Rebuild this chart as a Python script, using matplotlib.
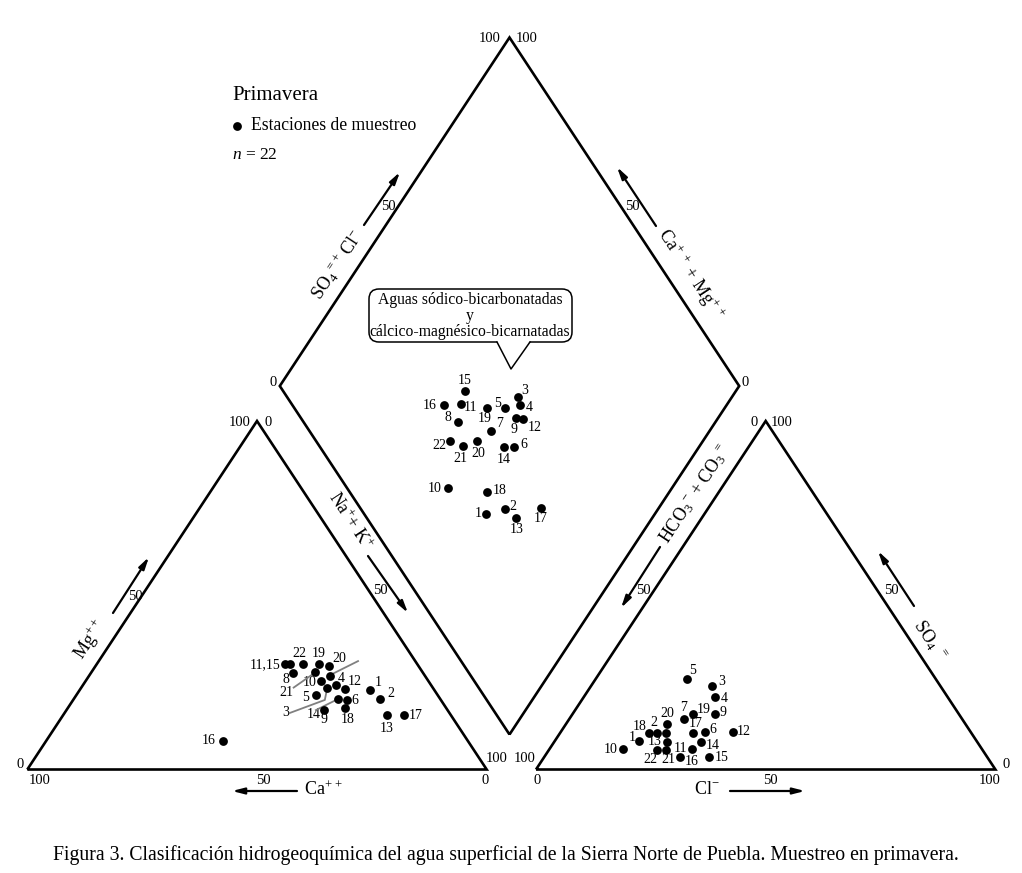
import matplotlib
matplotlib.use('Agg')
import matplotlib.pyplot as plt
from matplotlib.patches import FancyBboxPatch, Polygon

plt.rcParams['font.family'] = ['Liberation Serif', 'DejaVu Serif']
plt.rcParams['mathtext.fontset'] = 'custom'
plt.rcParams['mathtext.rm'] = 'Liberation Serif'
plt.rcParams['mathtext.it'] = 'Liberation Serif:italic'

# ---------------- data (% meq) ----------------
samples = list(range(1, 23))
ca = [14.0, 13.1, 23.1, 20.8, 26.5, 20.4, 20.7, 28.2, 26.9, 23.4, 27.8,
      19.3, 13.9, 22.3, 28.8, 53.2, 10.2, 22.0, 21.5, 19.4, 23.4, 24.8]
mg = [22.8, 20.2, 23.4, 24.2, 21.4, 19.9, 26.8, 27.8, 17.1, 25.4, 30.2,
      23.0, 15.6, 20.2, 30.2, 8.3, 15.6, 17.7, 30.2, 29.8, 28.1, 30.2]
nak = [63.2, 66.7, 53.5, 55.0, 52.1, 59.7, 52.5, 44.0, 56.0, 51.2, 42.0,
       57.7, 70.5, 57.5, 41.0, 38.5, 74.2, 60.3, 48.3, 50.8, 48.5, 45.0]
hco3 = [73.4, 68.5, 49.7, 50.5, 54.1, 57.8, 60.5, 66.4, 53.2, 78.1, 63.2,
        51.7, 67.5, 60.1, 60.5, 67.0, 60.7, 70.2, 58.0, 65.0, 68.8, 70.9]
cl = [18.3, 21.1, 26.3, 28.6, 19.8, 31.4, 25.0, 23.2, 31.0, 16.1, 31.0,
      37.5, 24.5, 31.9, 36.0, 29.5, 28.9, 19.4, 26.2, 22.0, 25.6, 23.5]
so4 = [8.3, 10.4, 24.0, 20.9, 26.1, 10.8, 14.5, 10.4, 15.8, 5.8, 5.8,
       10.8, 8.0, 8.0, 3.5, 3.5, 10.4, 10.4, 15.8, 13.0, 5.6, 5.6]

# ---------------- layout (pixel space) ----------------
W, H = 459.4, 348.5            # triangle base width / height
CAT0 = (27.3, 769.5)           # cation triangle lower-left corner
AN0 = (536.0, 769.5)           # anion triangle lower-left corner
DIAB = (509.5, 734.5)          # diamond bottom vertex


def cat_xy(c, m, n):
    t = c + m + n
    return CAT0[0] + (n / t + 0.5 * m / t) * W, CAT0[1] - m / t * H


def an_xy(h, s, c):
    t = h + s + c
    return AN0[0] + (c / t + 0.5 * s / t) * W, AN0[1] - s / t * H


def dia_xy(n, scl):
    lx, ly = DIAB[0] - W / 2, DIAB[1] - H
    return lx + (n + scl) / 200 * W, ly + (n - scl) / 100 * H


cat_off = {1: (8, -8), 2: (11, -6), 3: (-41, 25), 4: (6, -7), 5: (-10, 3),
           6: (8, 0), 8: (-7, 7), 9: (0, 10), 10: (-11, 2), 11: (-25, 0),
           12: (10, -8), 13: (0, 13), 14: (-24, 15), 16: (-15, 0),
           17: (12, 0), 18: (3, 12), 19: (0, -11), 20: (10, -7),
           21: (-28, 21), 22: (-4, -11)}
cat_text = {11: '11,15'}
cat_leaders = {21: [(-21, 16), (-1, 2)], 3: [(-37, 25), (-2, 12), (0, 2)],
               14: [(-22, 11), (-2, 1)], 7: [(2, -2), (28, -15)]}
an_off = {1: (-7, -3), 2: (-3, -11), 3: (10, -4), 4: (9, 2), 5: (6, -8),
          6: (8, -2), 7: (-1, -11), 9: (8, -2), 10: (-13, 0), 11: (-11, -1),
          12: (11, 0), 13: (-12, 0), 14: (12, 4), 15: (12, 0), 16: (12, 4),
          17: (3, -10), 18: (-9, -7), 19: (11, -5), 20: (0, -11),
          21: (2, 10), 22: (-6, 10)}
dia_off = {1: (-8, 0), 2: (8, -2), 3: (6, -7), 4: (9, 2), 5: (-7, -4),
           6: (10, -2), 7: (8, -8), 8: (-10, -5), 9: (-2, 11), 10: (-13, 0),
           11: (10, 3), 12: (11, 9), 13: (0, 11), 14: (0, 12), 15: (0, -11),
           16: (-14, 0), 17: (0, 11), 18: (13, -2), 19: (-2, 11),
           20: (1, 12), 21: (-2, 12), 22: (-11, 4)}

fig = plt.figure(figsize=(10.22, 8.73), dpi=100)
ax = fig.add_axes([0, 0, 1, 1])
ax.set_xlim(0, 1022)
ax.set_ylim(873, 0)
ax.axis('off')

LW = 1.9
kw = dict(color='k', lw=LW, solid_joinstyle='miter', solid_capstyle='butt')
for x0, y0 in (CAT0, AN0):
    ax.plot([x0, x0 + W, x0 + W / 2, x0], [y0, y0, y0 - H, y0], **kw)
bx, by = DIAB
ax.plot([bx, bx - W / 2, bx, bx + W / 2, bx],
        [by, by - H, by - 2 * H, by - H, by], **kw)

# points
DOT = dict(s=40, color='k', zorder=5, linewidths=0)
cxy = [cat_xy(c, m, n) for c, m, n in zip(ca, mg, nak)]
axy = [an_xy(h, s, c) for h, s, c in zip(hco3, so4, cl)]
dxy = [dia_xy(n, s + c) for n, s, c in zip(nak, so4, cl)]
for pts in (cxy, axy, dxy):
    ax.scatter([p[0] for p in pts], [p[1] for p in pts], **DOT)

LFS = 10
for i, sid in enumerate(samples):
    if sid in cat_off:
        dx, dy = cat_off[sid]
        ax.text(cxy[i][0] + dx, cxy[i][1] + dy, cat_text.get(sid, str(sid)),
                ha='center', va='center', fontsize=LFS)
    if sid in cat_leaders:
        pts = cat_leaders[sid]
        ax.plot([cxy[i][0] + p[0] for p in pts], [cxy[i][1] + p[1] for p in pts],
                color='#808080', lw=1.3, zorder=4)
    if sid in an_off:
        dx, dy = an_off[sid]
        ax.text(axy[i][0] + dx, axy[i][1] + dy, str(sid), ha='center',
                va='center', fontsize=LFS)
    if sid in dia_off:
        dx, dy = dia_off[sid]
        ax.text(dxy[i][0] + dx, dxy[i][1] + dy, str(sid), ha='center',
                va='center', fontsize=LFS)

# tick / corner labels
TFS = 10.5
ticks = [(20, 764, '0'), (40, 781, '100'), (263, 781, '50'), (485, 781, '0'),
         (240, 423, '100'), (268, 423, '0'), (497, 758, '100'),
         (135, 597, '50'), (380, 591, '50'),
         (525, 758, '100'), (537, 781, '0'), (770, 781, '50'),
         (990, 781, '100'), (1006, 764, '0'), (754, 423, '0'),
         (782, 423, '100'), (643, 591, '50'), (891, 591, '50'),
         (490, 38, '100'), (527, 38, '100'), (273, 383, '0'), (745, 382, '0'),
         (388, 207, '50'), (632, 207, '50')]
for x, y, t in ticks:
    ax.text(x, y, t, ha='center', va='center', fontsize=TFS)

# arrows
arrows = [((113, 613), (149, 557)), ((368, 556), (408, 613)),
          ((364, 225), (400, 172)), ((656, 226), (617, 167)),
          ((660, 547), (621, 608)), ((914, 606), (878, 551)),
          ((297, 791), (232, 791)), ((730, 791), (805, 791))]
for tail, head in arrows:
    ax.annotate('', xy=head, xytext=tail,
                arrowprops=dict(arrowstyle='-|>,head_length=0.7,head_width=0.18',
                                lw=1.6, color='k', mutation_scale=10,
                                shrinkA=0, shrinkB=0))

ANG = 56.6
AFS = 13
ax.text(338, 265, r'SO$_4$$^{=}$$^{+}$ Cl$^{-}$', rotation=ANG, ha='center',
        va='center', fontsize=AFS, rotation_mode='anchor')
ax.text(690, 274, r'Ca$^{+\ +}$ + Mg$^{+\,+}$', rotation=-ANG, ha='center',
        va='center', fontsize=AFS, rotation_mode='anchor')
ax.text(350, 521, r'Na$^{+}$+ K$^{+}$', rotation=-ANG, ha='center',
        va='center', fontsize=AFS, rotation_mode='anchor')
ax.text(695, 494, r'HCO$_3$$^{-}$ + CO$_3$$^{=}$', rotation=ANG, ha='center',
        va='center', fontsize=AFS, rotation_mode='anchor')
ax.text(90, 640, r'Mg$^{++}$', rotation=ANG, ha='center', va='center',
        fontsize=AFS, rotation_mode='anchor')
ax.text(930, 640, r'SO$_4$ $^{=}$', rotation=-ANG, ha='center', va='center',
        fontsize=AFS, rotation_mode='anchor')
ax.text(324, 790, r'Ca$^{+\,+}$', ha='center', va='center', fontsize=AFS)
ax.text(707, 790, r'Cl$^{-}$', ha='center', va='center', fontsize=AFS)

# callout
box = FancyBboxPatch((369, 289), 203, 53,
                     boxstyle='round,pad=0,rounding_size=10',
                     fc='white', ec='k', lw=1.1, zorder=3)
ax.add_patch(box)
ax.add_patch(Polygon([(497, 341), (511, 369), (530, 341)], closed=False,
                     fc='white', ec='none', zorder=3.5))
ax.plot([497, 511, 530], [342, 369, 342], color='k', lw=1.1, zorder=3.6)
for y, t in ((300, 'Aguas sódico-bicarbonatadas'), (316, 'y'),
             (332, 'cálcico-magnésico-bicarnatadas')):
    ax.text(470, y, t, ha='center', va='center', fontsize=11.3, zorder=4)

# legend block
ax.text(232, 96, 'Primavera', ha='left', va='center', fontsize=15)
ax.scatter([237], [126], **DOT)
ax.text(251, 126, 'Estaciones de muestreo', ha='left', va='center', fontsize=12.7)
ax.text(232, 155, r'$n$ = 22', ha='left', va='center', fontsize=12.5)

# caption
ax.text(506, 855, 'Figura 3. Clasificación hidrogeoquímica del agua superficial '
        'de la Sierra Norte de Puebla. Muestreo en primavera.',
        ha='center', va='center', fontsize=14.2)

fig.savefig('out.png', dpi=100)
